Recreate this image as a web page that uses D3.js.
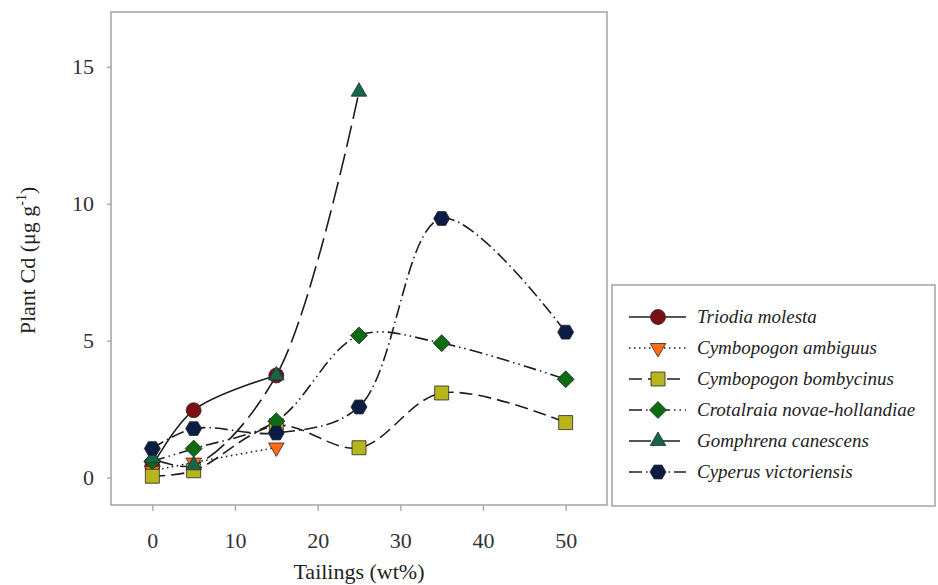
<!DOCTYPE html>
<html>
<head>
<meta charset="utf-8">
<script src="https://cdn.jsdelivr.net/npm/d3@7/dist/d3.min.js"></script>
<style>
  body { margin: 0; background: #fff; }
</style>
</head>
<body>
<div id="chart"></div>
<script>
// tailings levels (wt%) and plant Cd (ug/g)
const tailingsTicks = [0, 10, 20, 30, 40, 50];
const cdTicks = [0, 5, 10, 15];
const speciesNames = ['Triodia molesta', 'Cymbopogon ambiguus', 'Cymbopogon bombycinus',
    'Crotalraia novae-hollandiae', 'Gomphrena canescens', 'Cyperus victoriensis'];

const tailingsShort = [0, 5, 15];
const tailingsMid = [0, 5, 15, 25];
const tailingsAll = [0, 5, 15, 25, 35, 50];

const triodiaCd = [0.42, 2.46, 3.73];
const ambiguusCd = [0.25, 0.55, 1.1];
const bombycinusCd = [0.05, 0.25, 1.9, 1.09, 3.09, 2.01];
const crotalariaCd = [0.6, 1.06, 2.06, 5.19, 4.91, 3.59];
const gomphrenaCd = [0.71, 0.45, 3.73, 14.09];
const cyperusCd = [1.06, 1.79, 1.63, 2.58, 9.46, 5.31];

const serif = 'Liberation Serif';

// custom marker shapes, size = radius
const shapes = {
    circle: { draw(c, r) { c.moveTo(r, 0); c.arc(0, 0, r, 0, 2 * Math.PI); } },
    square: { draw(c, r) { c.rect(-r, -r, 2 * r, 2 * r); } },
    diamond: { draw(c, r) { c.moveTo(0, -r); c.lineTo(r, 0); c.lineTo(0, r); c.lineTo(-r, 0); c.closePath(); } },
    triUp: { draw(c, r) { const h = r * Math.sqrt(3) / 2; c.moveTo(0, -r); c.lineTo(h, r / 2); c.lineTo(-h, r / 2); c.closePath(); } },
    triDown: { draw(c, r) { const h = r * Math.sqrt(3) / 2; c.moveTo(0, r); c.lineTo(h, -r / 2); c.lineTo(-h, -r / 2); c.closePath(); } },
    hexagon: { draw(c, r) {
        for (let i = 0; i < 6; i++) {
            const a = i * Math.PI / 3;
            if (i === 0) c.moveTo(r * Math.cos(a), r * Math.sin(a));
            else c.lineTo(r * Math.cos(a), r * Math.sin(a));
        }
        c.closePath();
    } }
};

const series = [
    { name: speciesNames[0], x: tailingsShort, y: triodiaCd, color: '#7a1016', shape: shapes.circle, r: 7.5, dash: null },
    { name: speciesNames[1], x: tailingsShort, y: ambiguusCd, color: '#ff6a14', shape: shapes.triDown, r: 9, dash: '1.5,3.5' },
    { name: speciesNames[2], x: tailingsAll, y: bombycinusCd, color: '#b8b41c', shape: shapes.square, r: 7, dash: '13,6' },
    { name: speciesNames[3], x: tailingsAll, y: crotalariaCd, color: '#0d6b12', shape: shapes.diamond, r: 8.5, dash: '13,4,1.5,4,1.5,4' },
    { name: speciesNames[4], x: tailingsMid, y: gomphrenaCd, color: '#13684c', shape: shapes.triUp, r: 9, dash: '22,7' },
    { name: speciesNames[5], x: tailingsAll, y: cyperusCd, color: '#0b1c45', shape: shapes.hexagon, r: 8, dash: '13,4,1.5,4' }
];

const width = 938, height = 585;
const plot = { left: 111, right: 607, top: 12, bottom: 505 };

const svg = d3.select('#chart').append('svg')
    .attr('width', width)
    .attr('height', height)
    .attr('font-family', serif);

const xScale = d3.scaleLinear().domain([-5, 55]).range([plot.left, plot.right]);
const yScale = d3.scaleLinear().domain([-1, 17]).range([plot.bottom, plot.top]);

// frame
svg.append('rect')
    .attr('x', plot.left).attr('y', plot.top)
    .attr('width', plot.right - plot.left).attr('height', plot.bottom - plot.top)
    .attr('fill', 'none').attr('stroke', '#a3a3a3').attr('stroke-width', 1.5);

// axes
const xAxis = svg.append('g')
    .attr('transform', 'translate(0,' + plot.bottom + ')')
    .call(d3.axisBottom(xScale).tickValues(tailingsTicks).tickSize(6).tickPadding(21));
const yAxis = svg.append('g')
    .attr('transform', 'translate(' + plot.left + ',0)')
    .call(d3.axisLeft(yScale).tickValues(cdTicks).tickSize(4).tickPadding(13));

[xAxis, yAxis].forEach(a => {
    a.attr('font-family', serif).attr('font-size', 22);
    a.select('.domain').remove();
    a.selectAll('line').attr('stroke', '#a3a3a3').attr('stroke-width', 1.3);
    a.selectAll('text').attr('fill', '#333');
});

// axis titles
svg.append('text')
    .attr('x', (plot.left + plot.right) / 2).attr('y', 579)
    .attr('text-anchor', 'middle')
    .attr('font-size', 22).attr('fill', '#222')
    .text('Tailings (wt%)');

const yTitle = svg.append('text')
    .attr('transform', 'translate(35,' + ((plot.top + plot.bottom) / 2 + 2) + ') rotate(-90)')
    .attr('text-anchor', 'middle')
    .attr('font-size', 22).attr('fill', '#222');
yTitle.append('tspan').text('Plant Cd (\u03bcg g');
yTitle.append('tspan').attr('dy', -9).attr('font-size', 14).text('-1');
yTitle.append('tspan').attr('dy', 9).text(')');

// lines
const line = d3.line().curve(d3.curveCatmullRom);
const lineLayer = svg.append('g');
series.forEach(s => {
    const pts = s.x.map((t, i) => [xScale(t), yScale(s.y[i])]);
    lineLayer.append('path')
        .attr('d', line(pts))
        .attr('fill', 'none')
        .attr('stroke', '#1e1e1e')
        .attr('stroke-width', 1.6)
        .attr('stroke-dasharray', s.dash);
});

// markers
const markLayer = svg.append('g');
series.forEach(s => {
    markLayer.selectAll(null)
        .data(s.x.map((t, i) => [t, s.y[i]]))
        .join('path')
        .attr('transform', d => 'translate(' + xScale(d[0]) + ',' + yScale(d[1]) + ')')
        .attr('d', d3.symbol().type(s.shape).size(s.r))
        .attr('fill', s.color)
        .attr('stroke', '#2a2a2a')
        .attr('stroke-width', 0.8);
});

// legend
const legend = svg.append('g');
legend.append('rect')
    .attr('x', 612).attr('y', 285).attr('width', 323).attr('height', 221)
    .attr('fill', '#fff').attr('stroke', '#a3a3a3').attr('stroke-width', 1.5);

series.forEach((s, i) => {
    const y = 317 + i * 31;
    const row = legend.append('g').attr('transform', 'translate(0,' + y + ')');
    row.append('line')
        .attr('x1', 629).attr('x2', 686).attr('y1', 0).attr('y2', 0)
        .attr('stroke', '#1e1e1e').attr('stroke-width', 1.6)
        .attr('stroke-dasharray', s.dash);
    row.append('path')
        .attr('transform', 'translate(658,0)')
        .attr('d', d3.symbol().type(s.shape).size(s.r))
        .attr('fill', s.color).attr('stroke', '#2a2a2a').attr('stroke-width', 0.8);
    row.append('text')
        .attr('x', 697).attr('y', 6)
        .attr('font-size', 19).attr('font-style', 'italic')
        .attr('fill', '#222')
        .text(s.name);
});
</script>
</body>
</html>
